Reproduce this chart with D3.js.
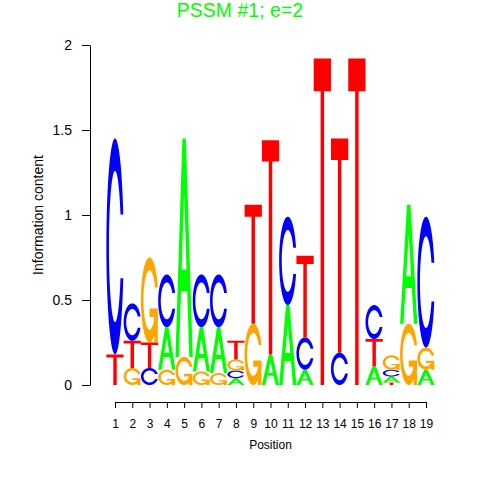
<!DOCTYPE html>
<html><head><meta charset="utf-8">
<script src="https://cdn.jsdelivr.net/npm/d3@7"></script>
<style>body{margin:0;background:#fff}svg{display:block;font-family:"Liberation Sans",Arial,sans-serif}</style>
</head><body>
<svg id="c" width="480" height="480"></svg>
<script>
const positions = [1,2,3,4,5,6,7,8,9,10,11,12,13,14,15,16,17,18,19];
const heightA = [0,0,0,0.25,1.285,0.26,0.27,0.04,0,0.18,0.47,0.09,0,0,0,0.11,0.035,0.7,0.09];
const heightC = [1.27,0.22,0.1,0.31,0,0.31,0.31,0.045,0,0,0.52,0.19,0,0.19,0,0.2,0.04,0,0.77];
const heightG = [0,0.1,0.5,0.09,0.165,0.08,0.07,0.065,0.36,0,0,0,0,0,0,0,0.085,0.36,0.13];
const heightT = [0.18,0.16,0.15,0,0,0,0,0.11,0.7,1.26,0,0.48,1.92,1.26,1.92,0.16,0.015,0,0];
const yTicks = [0,0.5,1,1.5,2];
const letterColors = {A:"#00ff00", C:"#0000ff", G:"#ffa500", T:"#ff0000"};
const titleText = "PSSM #1; e=2";

const svg = d3.select("#c");
const x = d3.scaleLinear().domain([1,19]).range([115,426]);
const y = d3.scaleLinear().domain([0,2]).range([385,45]);
const colW = x(2)-x(1);

function seq(a,b,n){const r=[];for(let i=0;i<n;i++)r.push(a+(b-a)*i/(n-1));return r;}
function cShape(){
  const a1=seq(0.3+Math.PI/2,Math.PI,100), a2=seq(Math.PI,1.5*Math.PI,100);
  const xl1=a1.map(a=>0.5+0.5*Math.sin(a)), yl1=a1.map(a=>0.5+0.5*Math.cos(a));
  const xl2=a2.map(a=>0.5+0.5*Math.sin(a)), yl2=a2.map(a=>0.5+0.5*Math.cos(a));
  const xl=xl1.concat(xl2), yl=yl1.concat(yl2);
  let X=xl.concat(xl.slice().reverse());
  let Y=yl.concat(yl.slice().reverse().map(v=>1-v));
  const maxy=Math.max(...yl1);
  let xi1=[],yi1=[];
  a1.forEach(a=>{const yy=0.5+0.35*Math.cos(a); if(yy<=maxy){xi1.push(0.5+0.35*Math.sin(a));yi1.push(yy);}});
  yi1[0]=maxy;
  const xi2=a2.map(a=>0.5+0.35*Math.sin(a)), yi2=a2.map(a=>0.5+0.35*Math.cos(a));
  const xi=xi1.concat(xi2), yi=yi1.concat(yi2);
  const x1=xi.concat(xi.slice().reverse()), y1=yi.concat(yi.slice().reverse().map(v=>1-v));
  X=X.concat(x1.slice().reverse()); Y=Y.concat(y1.slice().reverse());
  return {X,Y,r1:Math.max(...xl1)};
}
function letterPolys(L){
  if(L==="A") return [
    {X:[0,4,6,10,8,6.8,3.2,2,0].map(v=>v/10),Y:[0,10,10,0,0,3,3,0,0].map(v=>v/10),fill:letterColors.A},
    {X:[3.6,5,6.4,3.6].map(v=>v/10),Y:[4,7.5,4,4].map(v=>v/10),fill:"#ffffff"}];
  if(L==="T") return [{X:[0,10,10,6,6,4,4,0].map(v=>v/10),Y:[10,10,9,9,0,0,9,9].map(v=>v/10),fill:letterColors.T}];
  const c=cShape();
  if(L==="C") return [{X:c.X,Y:c.Y,fill:letterColors.C}];
  const r1=c.r1,h1=0.4;
  return [{X:c.X,Y:c.Y,fill:letterColors.G},
    {X:[r1,0.5,0.5,r1-0.2,r1-0.2,r1,r1],Y:[h1,h1,h1-0.1,h1-0.1,0,0,h1],fill:letterColors.G}];
}

const logo = svg.append("g");
positions.forEach((p,i)=>{
  const items=[["A",heightA[i]],["C",heightC[i]],["G",heightG[i]],["T",heightT[i]]]
    .filter(d=>d[1]>0);
  items.sort((a,b)=>a[1]-b[1]);
  let base=0;
  const left=x(p)-colW/2;
  items.forEach(([L,h])=>{
    letterPolys(L).forEach(poly=>{
      const pts=poly.X.map((vx,k)=>[left+vx*colW, y(base+h*poly.Y[k])]);
      logo.append("path").attr("d","M"+pts.map(q=>q[0].toFixed(2)+","+q[1].toFixed(2)).join("L")+"Z")
        .attr("fill",poly.fill).attr("stroke","none");
    });
    base+=h;
  });
});

const xAxis = svg.append("g").attr("transform","translate(0,402)")
  .call(d3.axisBottom(x).tickValues(positions).tickFormat(d3.format("d")).tickSize(6).tickSizeOuter(0).tickPadding(11));
xAxis.selectAll("text").attr("font-size",12).attr("fill","#000").attr("font-family","Liberation Sans, Arial, sans-serif");
xAxis.select(".domain").attr("stroke","#000");

const yAxis = svg.append("g").attr("transform","translate(90,0)")
  .call(d3.axisLeft(y).tickValues(yTicks).tickFormat(d3.format("")).tickSize(8).tickSizeOuter(0).tickPadding(10));
yAxis.selectAll("text").attr("font-size",14).attr("fill","#000").attr("font-family","Liberation Sans, Arial, sans-serif");
yAxis.select(".domain").attr("stroke","#000");

svg.append("text").attr("x",270.5).attr("y",449).attr("text-anchor","middle")
  .attr("font-size",12).text("Position");
svg.append("text").attr("transform","translate(43,215) rotate(-90)").attr("text-anchor","middle")
  .attr("font-size",14).text("Information content");
svg.append("text").attr("x",240).attr("y",16.5).attr("text-anchor","middle")
  .attr("font-size",19.5).attr("fill","#00ff00").text(titleText);
</script>
</body></html>
